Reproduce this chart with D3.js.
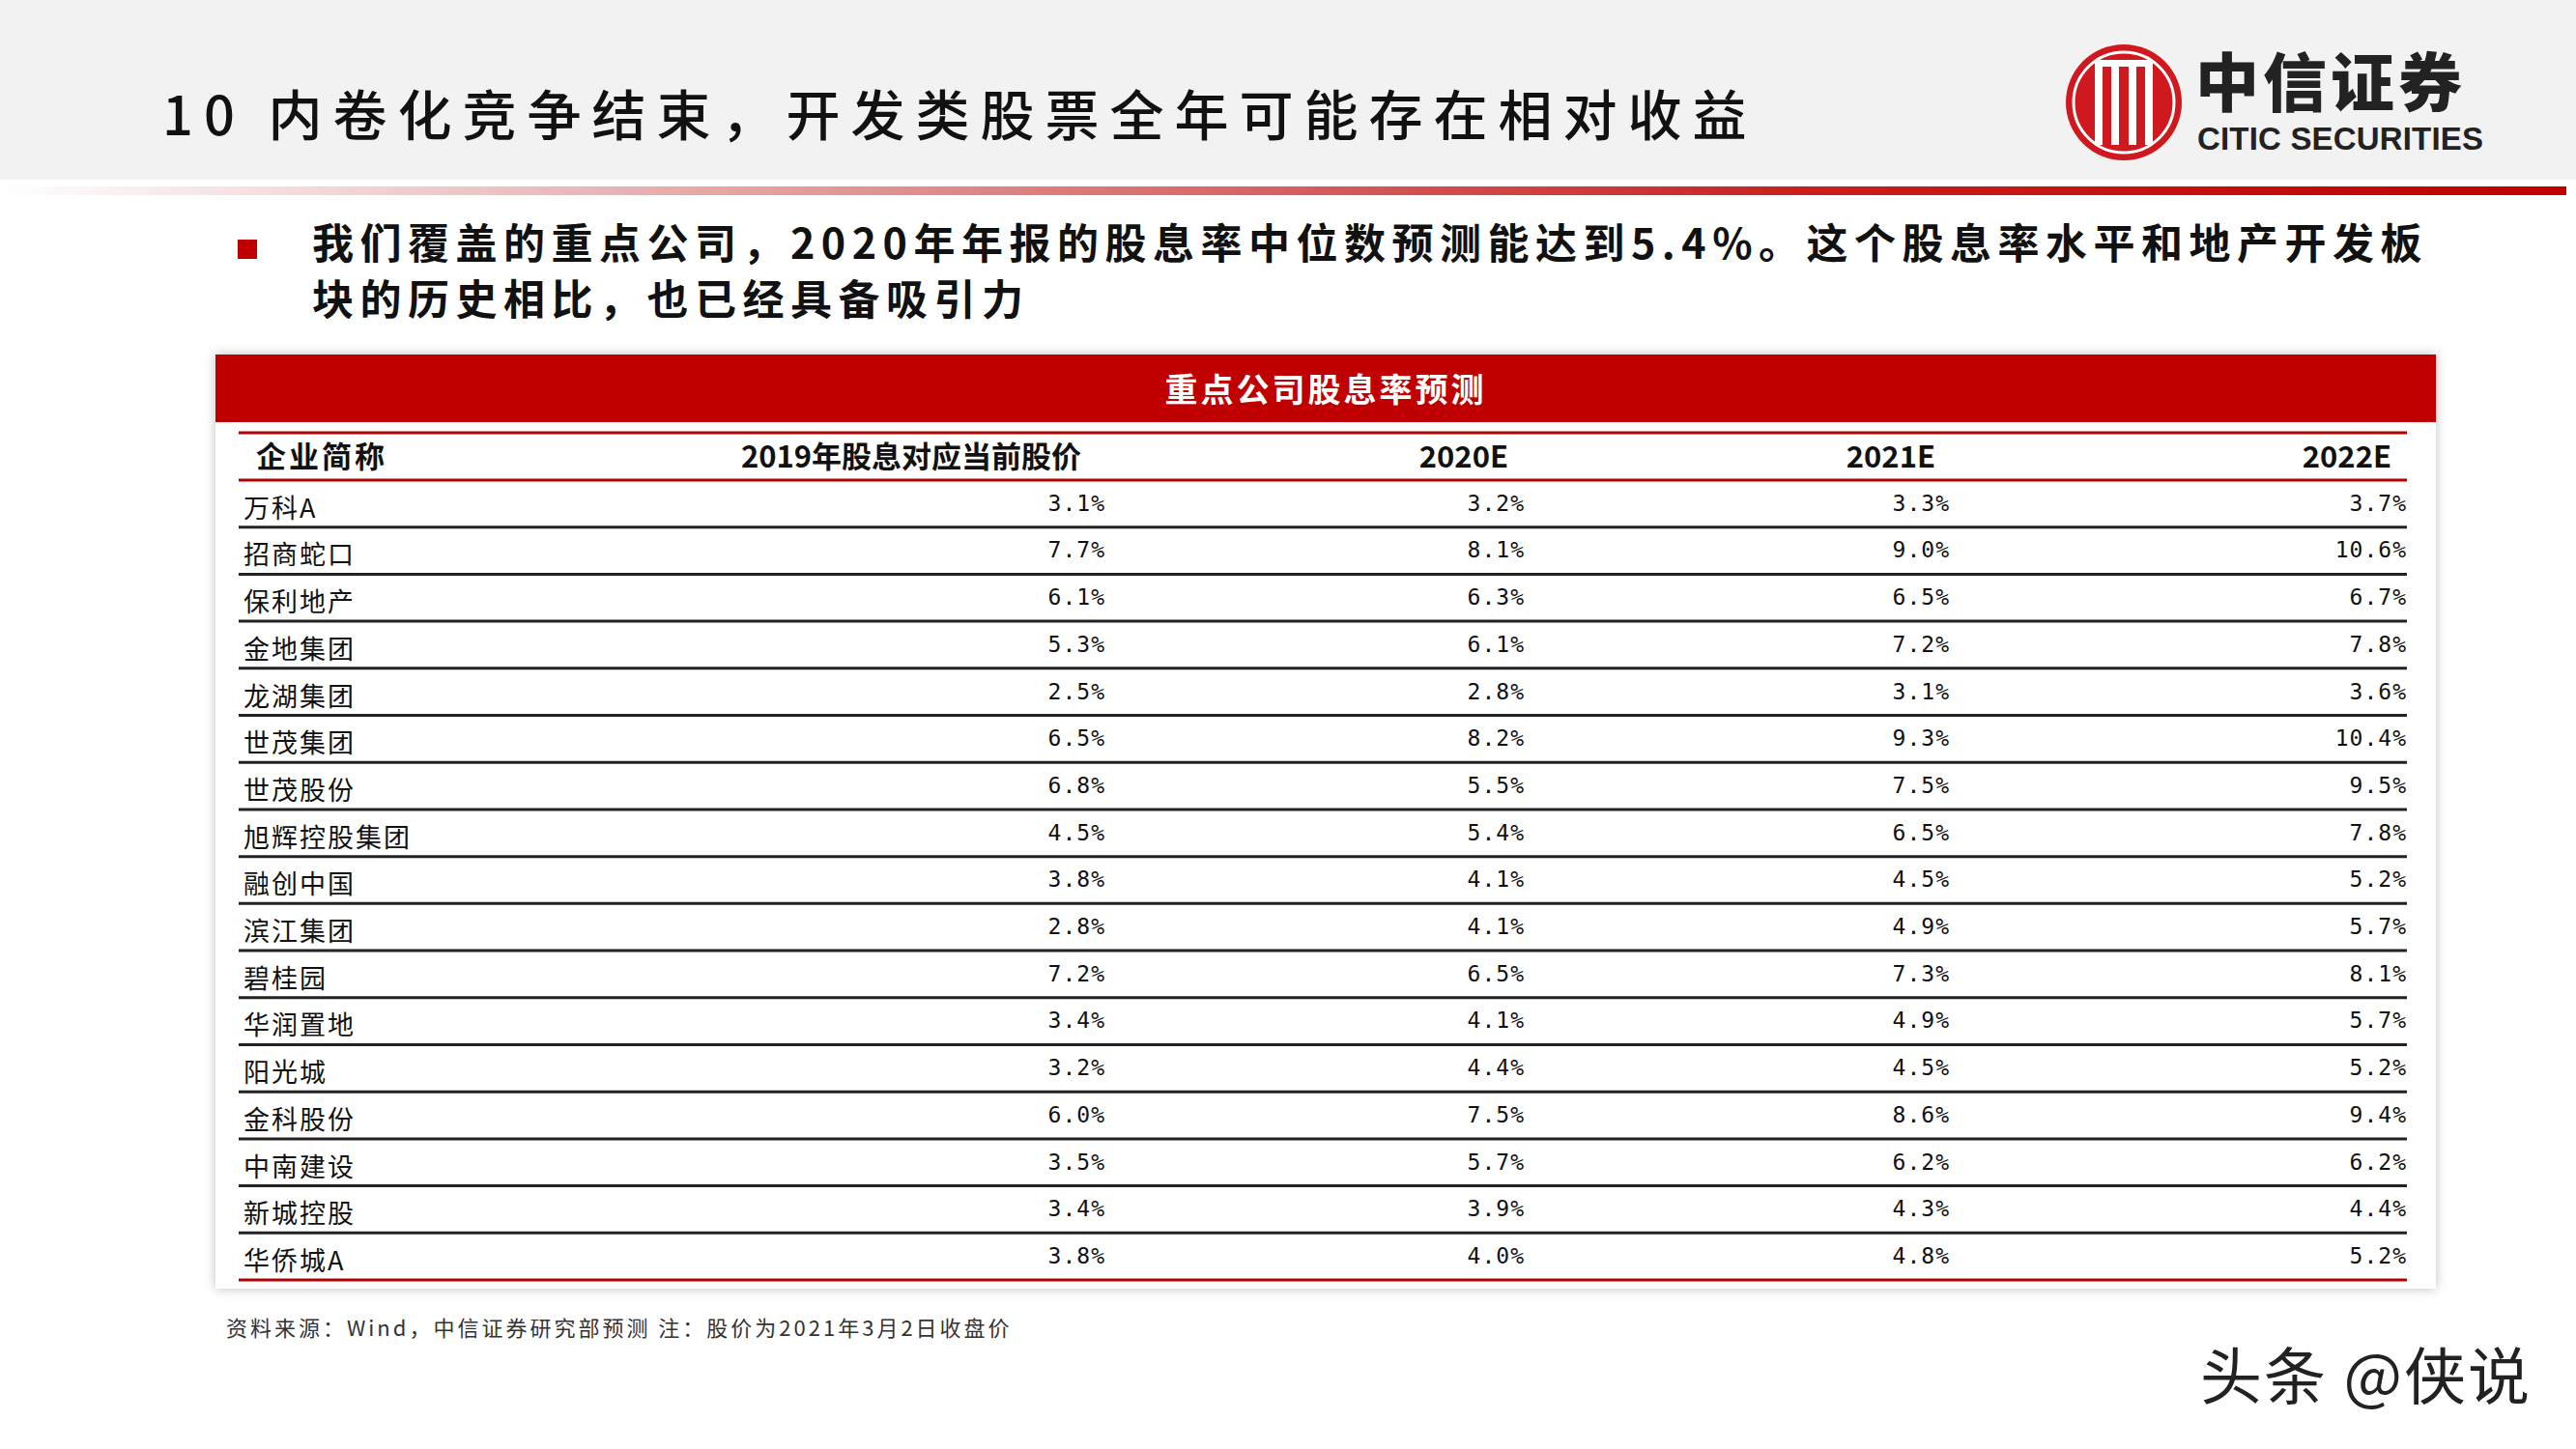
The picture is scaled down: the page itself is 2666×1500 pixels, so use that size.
<!DOCTYPE html>
<html><head><meta charset="utf-8">
<script src="https://cdn.jsdelivr.net/npm/d3@7"></script>
<style>body{margin:0;background:#fff}</style>
</head><body>
<svg id="chart" width="2666" height="1500"></svg>
<script>
var companies = ["万科A","招商蛇口","保利地产","金地集团","龙湖集团","世茂集团","世茂股份","旭辉控股集团","融创中国","滨江集团","碧桂园","华润置地","阳光城","金科股份","中南建设","新城控股","华侨城A"];
var y2019 = [3.1,7.7,6.1,5.3,2.5,6.5,6.8,4.5,3.8,2.8,7.2,3.4,3.2,6.0,3.5,3.4,3.8];
var y2020 = [3.2,8.1,6.3,6.1,2.8,8.2,5.5,5.4,4.1,4.1,6.5,4.1,4.4,7.5,5.7,3.9,4.0];
var y2021 = [3.3,9.0,6.5,7.2,3.1,9.3,7.5,6.5,4.5,4.9,7.3,4.9,4.5,8.6,6.2,4.3,4.8];
var y2022 = [3.7,10.6,6.7,7.8,3.6,10.4,9.5,7.8,5.2,5.7,8.1,5.7,5.2,9.4,6.2,4.4,5.2];
var headers = ["企业简称","2019年股息对应当前股价","2020E","2021E","2022E"];

var svg = d3.select("#chart");
var cjk = "'Noto Sans CJK SC', sans-serif";

// header band
svg.append("rect").attr("width",2666).attr("height",186).attr("fill","#f2f2f2");
var grad = svg.append("defs").append("linearGradient").attr("id","hdrLine");
grad.append("stop").attr("offset","0%").attr("stop-color","#fff");
grad.append("stop").attr("offset","30%").attr("stop-color","#e3a0a0");
grad.append("stop").attr("offset","70%").attr("stop-color","#c82020");
grad.append("stop").attr("offset","100%").attr("stop-color","#c00000");
svg.append("rect").attr("x",0).attr("y",193).attr("width",2656).attr("height",9).attr("fill","url(#hdrLine)");

svg.append("text").attr("x",168).attr("y",140).attr("font-family",cjk).attr("font-size",56).attr("font-weight",500)
  .attr("fill","#111").attr("letter-spacing",11).text("10 内卷化竞争结束，开发类股票全年可能存在相对收益");

// logo
var logo = svg.append("g").attr("transform","translate(2198,106)");
logo.append("circle").attr("r",60).attr("fill","#d0191f");
logo.append("circle").attr("r",52).attr("fill","none").attr("stroke","#fff").attr("stroke-width",3);
[-26,-9,9,26].forEach(function(x){
  logo.append("rect").attr("x",x-4).attr("y",-44).attr("width",8).attr("height",88).attr("fill","#fff");
});
logo.append("rect").attr("x",-30).attr("y",-44).attr("width",60).attr("height",7).attr("fill","#fff");
svg.append("text").attr("x",2272).attr("y",110).attr("font-family","'Noto Sans CJK SC'").attr("font-weight",900)
  .attr("font-size",66).attr("fill","#222").attr("letter-spacing",4).text("中信证券");
svg.append("text").attr("x",2274).attr("y",155).attr("font-family","Liberation Sans, Arial").attr("font-weight",700)
  .attr("font-size",33).attr("fill","#222").attr("textLength",296).text("CITIC SECURITIES");

// bullet
svg.append("rect").attr("x",246).attr("y",248).attr("width",20).attr("height",20).attr("fill","#c00000");
svg.append("text").attr("x",323).attr("y",268).attr("font-family",cjk).attr("font-size",43).attr("font-weight",700)
  .attr("fill","#111").attr("letter-spacing",6.5).text("我们覆盖的重点公司，2020年年报的股息率中位数预测能达到5.4%。这个股息率水平和地产开发板");
svg.append("text").attr("x",323).attr("y",326).attr("font-family",cjk).attr("font-size",43).attr("font-weight",700)
  .attr("fill","#111").attr("letter-spacing",6.5).text("块的历史相比，也已经具备吸引力");

// table panel
var filt = svg.select("defs").append("filter").attr("id","sh").attr("x","-5%").attr("y","-5%").attr("width","110%").attr("height","110%");
filt.append("feDropShadow").attr("dx",0).attr("dy",0).attr("stdDeviation",6).attr("flood-color","#000").attr("flood-opacity",0.25);
svg.append("rect").attr("x",223).attr("y",367).attr("width",2298).attr("height",967).attr("fill","#fff").attr("filter","url(#sh)");
svg.append("rect").attr("x",223).attr("y",367).attr("width",2298).attr("height",70).attr("fill","#c00000");
svg.append("text").attr("x",1372).attr("y",416).attr("text-anchor","middle").attr("font-family",cjk).attr("font-weight",700)
  .attr("font-size",34).attr("fill","#fff").attr("letter-spacing",3).text("重点公司股息率预测");

var x0 = 247, x1 = 2491;
var y = d3.scaleBand().domain(companies).range([497,1325]);
var colRight = [1144,1578,2018,2491];
var hdrX = [{x:943,a:"middle"},{x:1561,a:"end"},{x:2003,a:"end"},{x:2475,a:"end"}];

svg.append("line").attr("x1",x0).attr("x2",x1).attr("y1",448).attr("y2",448).attr("stroke","#b00000").attr("stroke-width",3);
svg.append("line").attr("x1",x0).attr("x2",x1).attr("y1",497).attr("y2",497).attr("stroke","#b00000").attr("stroke-width",3);
svg.append("text").attr("x",265).attr("y",484).attr("font-family",cjk).attr("font-weight",700).attr("font-size",31)
  .attr("fill","#111").attr("letter-spacing",3).text(headers[0]);
headers.slice(1).forEach(function(h,i){
  svg.append("text").attr("x",hdrX[i].x).attr("y",484).attr("text-anchor",hdrX[i].a).attr("font-family",cjk)
    .attr("font-weight",700).attr("font-size",31).attr("fill","#111").text(h);
});

var cols = [y2019,y2020,y2021,y2022];
var rows = svg.selectAll(".row").data(companies).enter().append("g").attr("class","row")
  .attr("transform",function(d){return "translate(0,"+y(d)+")";});
rows.append("line").attr("x1",x0).attr("x2",x1).attr("y1",y.bandwidth()).attr("y2",y.bandwidth())
  .attr("stroke",function(d,i){return i===companies.length-1?"#b00000":"#222";}).attr("stroke-width",3);
rows.append("text").attr("x",252).attr("y",y.bandwidth()-10).attr("font-family",cjk).attr("font-size",27)
  .attr("fill","#111").attr("letter-spacing",2).text(function(d){return d;});
cols.forEach(function(c,ci){
  rows.append("text").attr("x",colRight[ci]).attr("y",y.bandwidth()-17).attr("text-anchor","end")
    .attr("font-family","'DejaVu Sans Mono', monospace").attr("font-size",23).attr("fill","#111")
    .attr("letter-spacing",1).text(function(d,i){return c[i].toFixed(1)+"%";});
});

svg.append("text").attr("x",234).attr("y",1383).attr("font-family",cjk).attr("font-size",22).attr("fill","#333")
  .attr("letter-spacing",3).text("资料来源：Wind，中信证券研究部预测    注：股价为2021年3月2日收盘价");

svg.append("text").attr("x",2620).attr("y",1448).attr("text-anchor","end").attr("font-family",cjk).attr("font-size",64)
  .attr("fill","#222").attr("letter-spacing",2).text("头条 @侠说");
</script>
</body></html>
